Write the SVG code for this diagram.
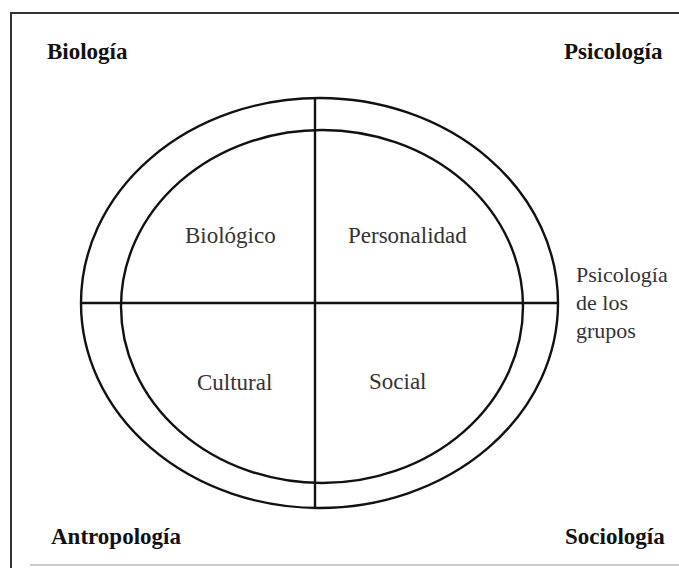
<svg xmlns="http://www.w3.org/2000/svg" width="679" height="568" viewBox="0 0 679 568">
<style>
.ln{fill:none;stroke:#111;stroke-width:2.4}
.fr{fill:none;stroke:#333;stroke-width:2}
.disc{font-family:"Liberation Serif",serif;font-weight:bold;font-size:23px;fill:#111}
.lab{font-family:"Liberation Serif",serif;font-size:23px;fill:#333}
.side{font-family:"Liberation Serif",serif;font-size:22px;fill:#333}
</style>
<rect width="679" height="568" fill="#fff"/>
<g id="frame">
<path class="fr" d="M11,568 V13 H679"/>
<path d="M30,565 H679" stroke="#bbb" stroke-width="1.5" fill="none"/>
</g>
<g id="connectors">
<ellipse id="outer" class="ln" cx="319.5" cy="303" rx="238.5" ry="205"/>
<ellipse id="inner" class="ln" cx="322" cy="306.5" rx="201" ry="176.5"/>
<line class="ln" x1="315" y1="98" x2="315" y2="508"/>
<line class="ln" x1="81" y1="303" x2="558" y2="303"/>
</g>
<g id="biologia"><text class="disc" x="47" y="59">Biología</text></g>
<g id="psicologia"><text class="disc" x="564" y="59">Psicología</text></g>
<g id="antropologia"><text class="disc" x="51" y="544">Antropología</text></g>
<g id="sociologia"><text class="disc" x="565" y="544">Sociología</text></g>
<g id="biologico"><text class="lab" x="185" y="243">Biológico</text></g>
<g id="personalidad"><text class="lab" x="348" y="243">Personalidad</text></g>
<g id="cultural"><text class="lab" x="197" y="390">Cultural</text></g>
<g id="social"><text class="lab" x="369" y="389">Social</text></g>
<g id="psicologia-grupos"><text class="side" x="576" y="282">Psicología<tspan x="576" y="310">de los</tspan><tspan x="576" y="338">grupos</tspan></text></g>
</svg>
